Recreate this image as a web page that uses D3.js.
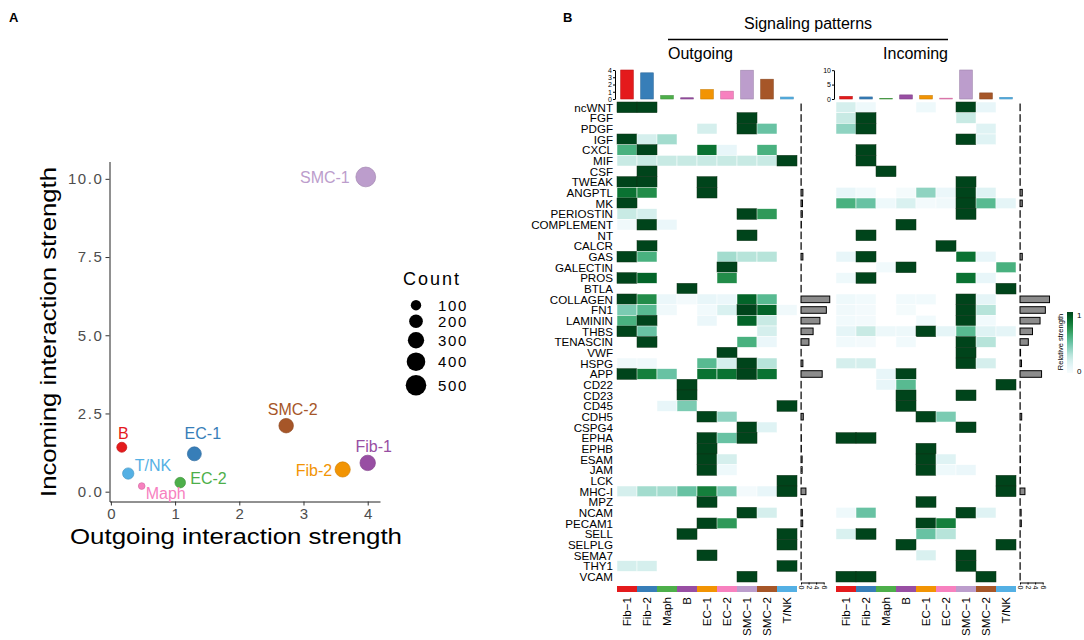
<!DOCTYPE html>
<html lang="en">
<head>
<meta charset="UTF-8">
<title>Signaling patterns</title>
<script src="https://d3js.org/d3.v7.min.js"></script>
<style>
  body { margin: 0; background: #fff; }
  svg { font-family: "Liberation Sans", Arial, sans-serif; }
</style>
</head>
<body>
<svg width="1084" height="640"></svg>
<script>
// ---- data ----
const cellTypes = ['Fib-1', 'Fib-2', 'Maph', 'B', 'EC-1', 'EC-2', 'SMC-1', 'SMC-2', 'T/NK'];
const palette = ['#E41A1C', '#377EB8', '#4DAF4A', '#984EA3', '#F29403', '#F781BF', '#BC9DCC', '#A65628', '#54B0E4'];

// total outgoing / incoming strength per cell type (scatter + top bars)
const outStrength = [4.0, 3.61, 0.48, 0.17, 1.30, 1.08, 3.97, 2.73, 0.27];
const inStrength = [0.92, 0.71, 0.18, 1.42, 1.21, 0.29, 10.06, 2.11, 0.58];
const cellCount = [265, 255, 20, 90, 210, 105, 460, 230, 125];
const countBreaks = [100, 200, 300, 400, 500];

const pathways = ['ncWNT', 'FGF', 'PDGF', 'IGF', 'CXCL', 'MIF', 'CSF', 'TWEAK', 'ANGPTL', 'MK',
  'PERIOSTIN', 'COMPLEMENT', 'NT', 'CALCR', 'GAS', 'GALECTIN', 'PROS', 'BTLA', 'COLLAGEN', 'FN1',
  'LAMININ', 'THBS', 'TENASCIN', 'VWF', 'HSPG', 'APP', 'CD22', 'CD23', 'CD45', 'CDH5',
  'CSPG4', 'EPHA', 'EPHB', 'ESAM', 'JAM', 'LCK', 'MHC-I', 'MPZ', 'NCAM', 'PECAM1',
  'SELL', 'SELPLG', 'SEMA7', 'THY1', 'VCAM'];

// relative strength, rows = pathways, cols = cellTypes
const outgoing = [
  [1, 1, 0, 0, 0, 0, 0, 0, 0],
  [0, 0, 0, 0, 0, 0, 1, 0, 0],
  [0, 0, 0, 0, 0.2, 0, 1, 0.5, 0],
  [1, 0.2, 0.35, 0, 0, 0, 0, 0, 0],
  [0.6, 1, 0, 0, 0.85, 0.1, 0, 0.6, 0],
  [0.25, 0.25, 0.25, 0.25, 0.25, 0.25, 0.25, 0.25, 1],
  [0, 1, 0, 0, 0, 0, 0, 0, 0],
  [1, 1, 0, 0, 1, 0, 0, 0, 0],
  [0.85, 0.75, 0, 0, 1, 0, 0, 0, 0],
  [1, 0, 0, 0, 0, 0, 0, 0, 0],
  [0.25, 0.2, 0, 0, 0, 0, 1, 0.7, 0],
  [0.05, 1, 0.08, 0, 0, 0, 0, 0, 0],
  [0, 0, 0, 0, 0, 0, 1, 0, 0],
  [0, 1, 0, 0, 0, 0, 0, 0, 0],
  [1, 0.6, 0, 0, 0, 0.35, 0.3, 0.3, 0],
  [0, 0, 0, 0, 0, 1, 0, 0, 0],
  [1, 0.9, 0, 0, 0, 0.75, 0, 0, 0],
  [0, 0, 0, 1, 0, 0, 0, 0, 0],
  [1, 0.75, 0.08, 0.03, 0.1, 0.08, 0.9, 0.55, 0],
  [0.45, 0.55, 0.05, 0, 0.04, 0.18, 1, 0.9, 0.05],
  [0.6, 1, 0, 0, 0.08, 0, 0.9, 0.25, 0],
  [1, 0.5, 0, 0, 0, 0, 0, 0.2, 0],
  [0, 1, 0, 0, 0, 0, 0.6, 0.08, 0],
  [0, 0, 0, 0, 0, 1, 0, 0, 0],
  [0.05, 0.05, 0, 0, 0.55, 0.2, 1, 0.3, 0],
  [1, 0.8, 0.5, 0, 0.85, 0.85, 1, 0.85, 0],
  [0, 0, 0, 1, 0, 0, 0, 0, 0],
  [0, 0, 0, 1, 0, 0, 0, 0, 0],
  [0, 0, 0.1, 0.45, 0, 0, 0, 0, 1],
  [0, 0, 0, 0, 1, 0.4, 0, 0, 0],
  [0, 0, 0, 0, 0, 0, 1, 0.15, 0],
  [0, 0, 0, 0, 1, 0.5, 1, 0, 0],
  [0, 0, 0, 0, 1, 0, 0, 0, 0],
  [0, 0, 0, 0, 1, 0.2, 0, 0, 0],
  [0, 0, 0, 0, 1, 0.06, 0, 0, 0],
  [0, 0, 0, 0, 0, 0, 0, 0, 1],
  [0.2, 0.35, 0.35, 0.5, 0.8, 0.45, 0.03, 0.1, 1],
  [0, 0, 0, 0, 1, 0, 0, 0, 0],
  [0, 0, 0, 0, 0, 0, 1, 0.2, 0],
  [0, 0, 0, 0, 1, 0.7, 0, 0, 0],
  [0, 0, 0, 1, 0, 0, 0, 0, 1],
  [0, 0, 0, 0, 0, 0, 0, 0, 1],
  [0, 0, 0, 0, 1, 0, 0, 0, 0],
  [0.2, 0.2, 0, 0, 0, 0, 0, 0, 1],
  [0, 0, 0, 0, 0, 0, 1, 0, 0]
];

const incoming = [
  [0.2, 0.06, 0, 0, 0.06, 0, 1, 0.1, 0],
  [0.25, 1, 0, 0, 0, 0, 0.25, 0, 0],
  [0.4, 1, 0, 0, 0, 0, 0, 0.15, 0],
  [0, 0, 0, 0, 0, 0, 1, 0.15, 0],
  [0, 1, 0, 0, 0, 0, 0, 0, 0],
  [0, 1, 0, 0, 0, 0, 0, 0, 0],
  [0, 0, 1, 0, 0, 0, 0, 0, 0],
  [0, 0, 0, 0, 0, 0, 1, 0, 0],
  [0.1, 0.04, 0, 0.02, 0.4, 0.08, 1, 0.15, 0],
  [0.6, 0.5, 0.06, 0.18, 0.03, 0.05, 1, 0.55, 0.12],
  [0, 0, 0, 0, 0, 0, 1, 0, 0],
  [0, 0, 0, 1, 0, 0, 0, 0, 0],
  [0, 1, 0, 0, 0, 0, 0, 0, 0],
  [0, 0, 0, 0, 0, 1, 0, 0, 0],
  [0.1, 1, 0, 0, 0, 0, 0.85, 0.1, 0],
  [0, 0, 0.04, 1, 0, 0, 0, 0, 0.6],
  [0.06, 1, 0, 0, 0, 0, 0.85, 0.1, 0],
  [0, 0, 0, 0, 0, 0, 0, 0, 1],
  [0.06, 0.04, 0, 0.04, 0.04, 0, 1, 0.12, 0],
  [0.05, 0.03, 0, 0.02, 0, 0, 1, 0.3, 0],
  [0.04, 0.03, 0, 0, 0.04, 0, 1, 0.04, 0],
  [0.12, 0.25, 0.07, 0.07, 1, 0.12, 0.55, 0.15, 0.12],
  [0.04, 0.03, 0, 0.04, 0, 0, 1, 0.3, 0],
  [0, 0, 0, 0, 0, 0, 1, 0, 0],
  [0.2, 0.2, 0, 0, 0, 0, 1, 0.2, 0],
  [0, 0, 0.1, 1, 0, 0, 0, 0, 0],
  [0, 0, 0.1, 0.55, 0, 0, 0, 0, 1],
  [0, 0, 0, 1, 0, 0, 1, 0, 0],
  [0, 0, 0, 1, 0, 0, 0, 0, 0],
  [0, 0, 0, 0, 1, 0.45, 0, 0, 0],
  [0, 0, 0, 0, 0, 0, 1, 0, 0],
  [1, 1, 0, 0, 0, 0, 0, 0, 0],
  [0, 0, 0, 0, 1, 0, 0, 0, 0],
  [0, 0, 0, 0, 1, 0.15, 0, 0, 0],
  [0, 0, 0, 0, 1, 0.06, 0.08, 0, 0],
  [0, 0, 0, 0, 0, 0, 0, 0, 1],
  [0, 0, 0, 0, 0, 0, 0, 0, 1],
  [0, 0, 0, 0, 1, 0, 0, 0, 0],
  [0.06, 0.5, 0, 0, 0, 0, 1, 0.15, 0],
  [0, 0, 0, 0, 1, 0.8, 0, 0, 0],
  [0.18, 1, 0, 0, 0.5, 0.3, 0, 0, 0],
  [0, 0, 0, 1, 0, 0, 0, 0, 1],
  [0, 0, 0, 0, 0.18, 0, 1, 0, 0],
  [0, 0, 0, 0, 0, 0, 1, 0, 0],
  [1, 1, 0, 0, 0, 0, 0, 1, 0]
];

// row totals (right-hand bars)
const outRowTotal = [0.05, 0.05, 0.05, 0.05, 0.05, 0.05, 0.05, 0.05, 0.5, 0.4,
  0.35, 0.1, 0.05, 0.05, 0.5, 0.05, 0.05, 0.05, 7.6, 6.7,
  5.0, 3.2, 2.1, 0.05, 0.5, 5.6, 0.05, 0.05, 0.05, 0.6,
  0.05, 0.1, 0.1, 0.3, 0.3, 0.05, 1.3, 0.05, 0.35, 0.45,
  0.05, 0.05, 0.05, 0.05, 0.05];
const inRowTotal = [0.05, 0.05, 0.05, 0.05, 0.05, 0.05, 0.05, 0.05, 0.6, 0.6,
  0.05, 0.05, 0.05, 0.05, 0.6, 0.05, 0.05, 0.05, 7.8, 6.7,
  5.3, 3.3, 2.2, 0.15, 0.4, 5.7, 0.05, 0.05, 0.05, 0.45,
  0.05, 0.05, 0.05, 0.1, 0.1, 0.05, 1.3, 0.05, 0.3, 0.35,
  0.05, 0.05, 0.05, 0.05, 0.05];

// ggrepel-like label nudges for panel A (px)
const labelNudge = {
  'Fib-1': [6, -11, 'middle'], 'Fib-2': [-10.5, 7, 'end'], 'Maph': [4, 12.5, 'start'],
  'B': [1.5, -8.5, 'middle'], 'EC-1': [8.5, -14.5, 'middle'], 'EC-2': [10, 1, 'start'],
  'SMC-1': [-16, 6, 'end'], 'SMC-2': [6.5, -11, 'middle'], 'T/NK': [6.5, -2.5, 'start']
};

const svg = d3.select('svg');
const FONT = '"Liberation Sans", Arial, sans-serif';

// ---- panel A ----
const alphaOrder = cellTypes.slice().sort();
const scatterColor = name => palette[alphaOrder.indexOf(name)];

const pts = cellTypes.map((name, i) => ({ name, x: outStrength[i], y: inStrength[i], n: cellCount[i] }));

function expand(ext) {
  const pad = (ext[1] - ext[0]) * 0.05;
  return [ext[0] - pad, ext[1] + pad];
}
const xA = d3.scaleLinear().domain(expand(d3.extent(outStrength))).range([109.5, 380]);
const yA = d3.scaleLinear().domain(expand(d3.extent(inStrength))).range([501.5, 161.5]);
const area = d3.scaleLinear().domain([0, 500]).range([7.25, 106]);
const rad = n => Math.sqrt(area(n));

svg.append('text').attr('x', 9).attr('y', 22).attr('font-size', 13).attr('font-weight', 'bold').text('A');

const gA = svg.append('g');
const yAxisA = gA.append('g').attr('transform', 'translate(109.5,0)')
  .call(d3.axisLeft(yA).tickValues([0, 2.5, 5, 7.5, 10]).tickFormat(d3.format('.1f')).tickSize(4).tickSizeOuter(0));
const xAxisA = gA.append('g').attr('transform', 'translate(0,501.5)')
  .call(d3.axisBottom(xA).tickValues([0, 1, 2, 3, 4]).tickFormat(d3.format('d')).tickSize(4).tickSizeOuter(0));
[yAxisA, xAxisA].forEach(ax => {
  ax.select('.domain').attr('stroke', '#222').attr('stroke-width', 1);
  ax.selectAll('.tick line').attr('stroke', '#333');
  ax.selectAll('.tick text').attr('font-size', 15).attr('fill', '#4D4D4D')
    .attr('font-family', FONT).attr('letter-spacing', 1.6);
});
yAxisA.selectAll('.tick text').attr('x', -6);
xAxisA.selectAll('.tick text').attr('y', 7).attr('dx', 0.8);

gA.append('text').attr('x', 236).attr('y', 544).attr('text-anchor', 'middle')
  .attr('font-size', 22).attr('textLength', 332).attr('lengthAdjust', 'spacingAndGlyphs')
  .text('Outgoing interaction strength');
gA.append('text').attr('transform', 'translate(56,332) rotate(-90)').attr('text-anchor', 'middle')
  .attr('font-size', 22).attr('textLength', 330).attr('lengthAdjust', 'spacingAndGlyphs')
  .text('Incoming interaction strength');

gA.selectAll('circle.pt').data(pts).join('circle').attr('class', 'pt')
  .attr('cx', d => xA(d.x)).attr('cy', d => yA(d.y)).attr('r', d => rad(d.n))
  .attr('fill', d => scatterColor(d.name))
  .attr('stroke', d => d3.color(scatterColor(d.name)).darker(0.4)).attr('stroke-width', 0.7);

gA.selectAll('text.lab').data(pts).join('text').attr('class', 'lab')
  .attr('x', d => xA(d.x) + labelNudge[d.name][0])
  .attr('y', d => yA(d.y) + labelNudge[d.name][1])
  .attr('text-anchor', d => labelNudge[d.name][2])
  .attr('font-size', 16).attr('fill', d => scatterColor(d.name))
  .text(d => d.name);

// size legend
const lg = svg.append('g');
lg.append('text').attr('x', 403).attr('y', 285).attr('font-size', 18).attr('letter-spacing', 2).text('Count');
let cy = 298;
countBreaks.forEach(c => {
  const r = rad(c);
  const h = 2 * r + 4;
  const yc = cy + h / 2;
  lg.append('circle').attr('cx', 416).attr('cy', yc).attr('r', r).attr('fill', '#000');
  lg.append('text').attr('x', 438).attr('y', yc).attr('dy', '0.36em').attr('font-size', 15)
    .attr('letter-spacing', 1.6).text(c);
  cy += h;
});

// ---- panel B ----
svg.append('text').attr('x', 563).attr('y', 22).attr('font-size', 13).attr('font-weight', 'bold').text('B');

const rowBand = d3.scaleBand().domain(pathways).range([102, 582]);
const colBand = d3.scaleBand().domain(cellTypes).range([0, 180]);
const heat = d3.scaleSequential(d3.interpolateBuGn).domain([0, 1]);
const rowBarX = d3.scaleLinear().domain([0, 6]).range([0, 22.7]);
const LABEL_SIZE = 11.6;

svg.append('text').attr('x', 808).attr('y', 29).attr('text-anchor', 'middle').attr('font-size', 16)
  .text('Signaling patterns');
svg.append('line').attr('x1', 668).attr('x2', 948).attr('y1', 39.5).attr('y2', 39.5)
  .attr('stroke', '#000').attr('stroke-width', 1.6);
svg.append('text').attr('x', 668).attr('y', 59).attr('font-size', 16).text('Outgoing');
svg.append('text').attr('x', 948).attr('y', 59).attr('text-anchor', 'end').attr('font-size', 16).text('Incoming');

function drawHeatmap(x0, mat, colTotals, topTicks, rowTotals, barX0) {
  const g = svg.append('g').attr('transform', `translate(${x0},0)`);
  const cells = [];
  mat.forEach((row, i) => row.forEach((v, j) => { if (v > 0) cells.push({ p: pathways[i], c: cellTypes[j], v }); }));
  g.selectAll('rect.cell').data(cells).join('rect').attr('class', 'cell')
    .attr('x', d => colBand(d.c)).attr('y', d => rowBand(d.p))
    .attr('width', colBand.bandwidth()).attr('height', rowBand.bandwidth())
    .attr('fill', d => heat(d.v))
    .attr('stroke', d => d.v > 0.9 ? '#0c3317' : '#fff').attr('stroke-width', 0.5);

  // top bar annotation
  const yTop = d3.scaleLinear().domain([0, d3.max(colTotals)]).range([99, 70]);
  const bw = 12.6;
  g.selectAll('rect.top').data(colTotals).join('rect').attr('class', 'top')
    .attr('x', (d, j) => colBand(cellTypes[j]) + (colBand.bandwidth() - bw) / 2)
    .attr('y', d => yTop(d)).attr('width', bw).attr('height', d => 99 - yTop(d))
    .attr('fill', (d, j) => palette[j]).attr('stroke', (d, j) => d3.color(palette[j]).darker(0.5))
    .attr('stroke-width', 0.6);
  const ax = g.append('g').attr('transform', 'translate(-2,0)')
    .call(d3.axisLeft(yTop).tickValues(topTicks).tickFormat(d3.format('d')).tickSize(2).tickSizeOuter(0));
  ax.select('.domain').attr('stroke', '#000');
  ax.selectAll('.tick text').attr('font-size', 7).attr('x', -3).attr('font-family', FONT);

  // bottom colour strip
  g.selectAll('rect.strip').data(cellTypes).join('rect').attr('class', 'strip')
    .attr('x', d => colBand(d)).attr('y', 586).attr('width', colBand.bandwidth()).attr('height', 6)
    .attr('fill', (d, j) => palette[j]);

  // column labels
  g.selectAll('text.col').data(cellTypes).join('text').attr('class', 'col')
    .attr('transform', d => `translate(${colBand(d) + colBand.bandwidth() / 2 + 4.2},597) rotate(-90)`)
    .attr('text-anchor', 'end').attr('font-size', LABEL_SIZE)
    .text(d => d.replace('-', '\u2212'));

  // right row bars
  const rb = svg.append('g').attr('transform', `translate(${barX0},0)`);
  const bh = 6.6;
  rb.selectAll('rect').data(rowTotals).join('rect')
    .attr('x', 0).attr('y', (d, i) => rowBand(pathways[i]) + (rowBand.bandwidth() - bh) / 2)
    .attr('width', d => rowBarX(d)).attr('height', bh)
    .attr('fill', '#8c8c8c').attr('stroke', '#000').attr('stroke-width', 1);
  const bax = rb.append('g').attr('transform', 'translate(0,582.5)')
    .call(d3.axisBottom(rowBarX).tickValues([0, 2, 4, 6]).tickFormat(d3.format('d')).tickSize(2).tickSizeOuter(0));
  bax.select('.domain').attr('stroke', '#000');
  bax.selectAll('.tick text').attr('font-size', 7).attr('transform', 'rotate(90)')
    .attr('x', 3).attr('y', 0).attr('dy', '0.35em').attr('text-anchor', 'start')
    .attr('font-family', FONT);
}

drawHeatmap(617, outgoing, outStrength, [0, 1, 2, 3, 4], outRowTotal, 801);
drawHeatmap(836, incoming, inStrength, [0, 5, 10], inRowTotal, 1020);

// row labels
svg.append('g').selectAll('text').data(pathways).join('text')
  .attr('x', 613).attr('y', d => rowBand(d) + rowBand.bandwidth() / 2).attr('dy', '0.36em')
  .attr('text-anchor', 'end').attr('font-size', LABEL_SIZE).attr('textLength', d => d.length > 0 ? null : null)
  .text(d => d);

// colour legend
const defs = svg.append('defs');
const grad = defs.append('linearGradient').attr('id', 'rs').attr('x1', 0).attr('x2', 0).attr('y1', 1).attr('y2', 0);
d3.range(0, 1.01, 0.1).forEach(t => grad.append('stop').attr('offset', t).attr('stop-color', heat(t)));
svg.append('rect').attr('x', 1067).attr('y', 312).attr('width', 6).attr('height', 61).attr('fill', 'url(#rs)');
svg.append('text').attr('x', 1077).attr('y', 318).attr('font-size', 8).text('1');
svg.append('text').attr('x', 1077).attr('y', 374).attr('font-size', 8).text('0');
svg.append('text').attr('transform', 'translate(1063,342) rotate(-90)').attr('text-anchor', 'middle')
  .attr('font-size', 7.5).text('Relative strength');
</script>
</body>
</html>
